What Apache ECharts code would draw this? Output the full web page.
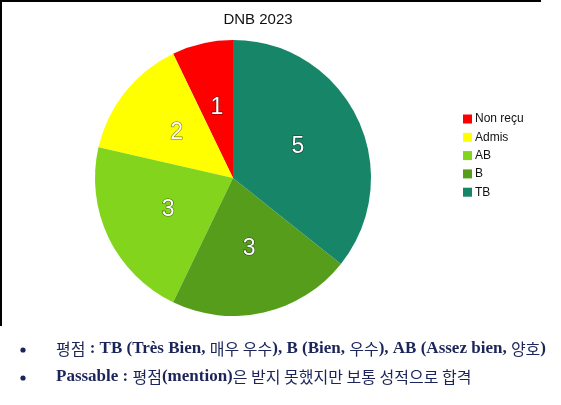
<!DOCTYPE html>
<html>
<head>
<meta charset="utf-8">
<script src="https://cdn.jsdelivr.net/npm/echarts@6/dist/echarts.min.js"></script>
<style>
  html, body { margin: 0; padding: 0; background: #fff; }
  #chart { width: 561px; height: 405px; }
</style>
</head>
<body>
<div id="chart"></div>
<script>
var categories = ['Non reçu', 'Admis', 'AB', 'B', 'TB'];
var counts = [1, 2, 3, 3, 5];
var palette = ['#ff0000', '#ffff00', '#83d41c', '#579d1c', '#178568'];

// footnote lines, split into [text, style] pieces
var note1 = [
    ['평점', 'k'], [' : TB (Très Bien, ', 'l'], ['매우 우수', 'k'], ['), B (Bien, ', 'l'],
    ['우수', 'k'], ['), AB (Assez bien, ', 'l'], ['양호', 'k'], [')', 'l']
];
var note2 = [
    ['Passable : ', 'l'], ['평점', 'k'], ['(mention)', 'l'], ['은 받지 못했지만 보통 성적으로 합격', 'k']
];

function richLine(parts) {
    return parts.map(function (p) { return '{' + p[1] + '|' + p[0] + '}'; }).join('');
}

var navy = '#1b2559';
var noteRich = {
    l: { fontFamily: 'Liberation Serif', fontWeight: 'bold', fontSize: 17, fill: navy },
    k: { fontFamily: 'Noto Sans CJK KR', fontSize: 16, fill: navy }
};

var chart = echarts.init(document.getElementById('chart'));
chart.setOption({
    animation: false,
    color: palette,
    title: {
        text: 'DNB 2023',
        left: 253,
        top: 7,
        textAlign: 'center',
        textStyle: { fontFamily: 'Liberation Sans', fontWeight: 'normal', fontSize: 15, color: '#111' }
    },
    legend: {
        orient: 'vertical',
        left: 458,
        top: 108,
        icon: 'rect',
        itemWidth: 9,
        itemHeight: 9,
        itemGap: 6.3,
        textStyle: { fontFamily: 'Liberation Sans', fontSize: 12, color: '#111', padding: [0, 0, 0, -2] },
        data: categories
    },
    series: [{
        type: 'pie',
        center: [233, 178],
        radius: 138,
        startAngle: 90,
        clockwise: false,
        label: {
            position: 'inside',
            formatter: '{c}',
            fontFamily: 'Liberation Sans',
            fontSize: 23,
            color: '#fff',
            textBorderColor: 'rgba(0,0,0,0.55)',
            textBorderWidth: 1.2,
            textShadowColor: 'rgba(0,0,0,0.5)',
            textShadowOffsetX: 1,
            textShadowOffsetY: 1
        },
        labelLine: { show: false },
        itemStyle: { borderWidth: 0 },
        emphasis: { disabled: true },
        data: categories.map(function (c, i) { return { name: c, value: counts[i] }; })
    }],
    graphic: [
        { type: 'line', shape: { x1: 0, y1: 1, x2: 541, y2: 1 }, style: { stroke: '#000', lineWidth: 2 } },
        { type: 'line', shape: { x1: 1, y1: 0, x2: 1, y2: 326 }, style: { stroke: '#000', lineWidth: 2 } },
        { type: 'circle', shape: { cx: 23, cy: 350, r: 2.6 }, style: { fill: navy } },
        { type: 'circle', shape: { cx: 23, cy: 378, r: 2.6 }, style: { fill: navy } },
        { type: 'text', left: 56, top: 340, style: { text: richLine(note1), rich: noteRich } },
        { type: 'text', left: 56, top: 368, style: { text: richLine(note2), rich: noteRich } }
    ]
});
</script>
</body>
</html>
